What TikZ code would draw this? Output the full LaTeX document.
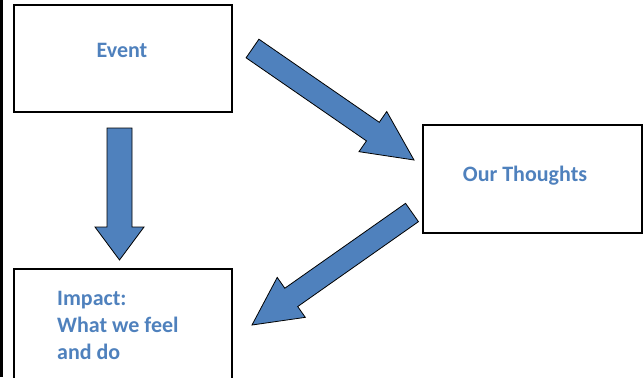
\documentclass[tikz,border=0pt]{standalone}
\usepackage{fontspec}
\setmainfont{Carlito}
\usepackage{xcolor}
\usetikzlibrary{calc}

\definecolor{officeblue}{RGB}{79,129,189}

\tikzset{
  box/.style={draw=black, line width=1.2pt, minimum width=218pt, minimum height=107pt, inner sep=0pt},
  boxtext/.style={text=officeblue, inner sep=0pt, font=\fontsize{22}{27}\selectfont\bfseries},
  barrow/.style={fill=officeblue, draw=black, line width=0.8pt, line join=miter},
}

% block arrow: from, to, shaft half width, head half width, head length
\newcommand{\blockarrow}[5]{%
  \path ($(#2)!#5!(#1)$) coordinate (ab);
  \draw[barrow] ($(#1)!#3!90:(#2)$) -- ($(ab)!#3!90:(#2)$) -- ($(ab)!#4!90:(#2)$)
    -- (#2) -- ($(ab)!#4!-90:(#2)$) -- ($(ab)!#3!-90:(#2)$) -- ($(#1)!#3!-90:(#2)$) -- cycle;
}

\begin{document}
\begin{tikzpicture}[x=1pt,y=-1pt]
  \useasboundingbox (0,0) rectangle (644,377);
  \fill[black] (0,0) rectangle (2.5,377);

  % boxes (impact runs past the bottom edge)
  \node[box] (event) at (123,58.5) {};
  \node[box, minimum height=108pt, minimum width=219pt] (thoughts) at (532.5,179) {};
  \node[box, minimum height=116pt] (impact) at (123,327) {};

  % texts
  \node[boxtext, anchor=base] (event-text) at (122,58) {Event};
  \node[boxtext, anchor=base] (thoughts-text) at (525,181) {Our Thoughts};
  \node[boxtext, anchor=north west, align=left] (impact-text) at (57,291) {Impact:\\What we feel\\and do};

  % arrow ends
  \coordinate (down-tail) at (119.5,128);
  \coordinate (down-tip) at (119.5,260);
  \coordinate (ev-tail) at (252.5,48.5);
  \coordinate (th-tip) at (414,160);
  \coordinate (th-tail) at (412,212.5);
  \coordinate (im-tip) at (252,325);

  % arrows
  \blockarrow{down-tail}{down-tip}{12.5pt}{24.5pt}{33pt}
  \blockarrow{ev-tail}{th-tip}{11.3pt}{24.4pt}{50pt}
  \blockarrow{th-tail}{im-tip}{11.2pt}{24.4pt}{48pt}
\end{tikzpicture}
\end{document}
